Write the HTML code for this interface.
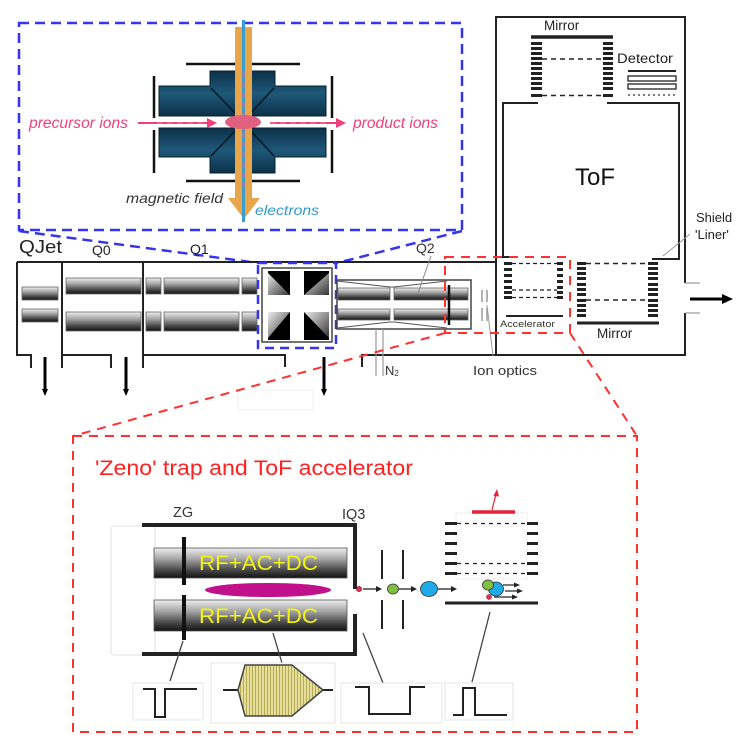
<!DOCTYPE html>
<html><head><meta charset="utf-8"><style>
html,body{margin:0;padding:0;background:#fff;}
svg{display:block;}
text{font-family:"Liberation Sans",Arial,sans-serif;}
</style></head><body>
<svg width="750" height="751" viewBox="0 0 750 751" xmlns="http://www.w3.org/2000/svg">
<defs>
<linearGradient id="rod" x1="0" y1="0" x2="0" y2="1">
<stop offset="0" stop-color="#eeeeee"/><stop offset="0.35" stop-color="#a8a8a8"/><stop offset="0.75" stop-color="#444"/><stop offset="1" stop-color="#111"/>
</linearGradient>
<linearGradient id="teal" x1="0" y1="0" x2="0" y2="1">
<stop offset="0" stop-color="#0c3149"/><stop offset="0.5" stop-color="#1f5878"/><stop offset="1" stop-color="#0c3149"/>
</linearGradient>
<linearGradient id="tri" x1="0" y1="0" x2="1" y2="1">
<stop offset="0" stop-color="#eee"/><stop offset="1" stop-color="#333"/>
</linearGradient>
<pattern id="stripes" width="3" height="10" patternUnits="userSpaceOnUse">
<rect width="3" height="10" fill="#e6df9c"/><rect width="1" height="10" fill="#b5ab55"/>
</pattern>
</defs>

<!-- ===== Top blue inset ===== -->
<rect x="19" y="23" width="443" height="207" fill="none" stroke="#3535f0" stroke-width="2.5" stroke-dasharray="10,6"/>
<line x1="19" y1="231" x2="258" y2="263" stroke="#3535f0" stroke-width="2.5" stroke-dasharray="10,6"/>
<line x1="462" y1="231" x2="337" y2="263" stroke="#3535f0" stroke-width="2.5" stroke-dasharray="10,6"/>

<!-- electrode lines -->
<g stroke="#111" stroke-width="2.5">
<line x1="186" y1="64" x2="300" y2="64"/>
<line x1="186" y1="181" x2="300" y2="181"/>
<line x1="154" y1="76" x2="154" y2="118"/>
<line x1="154" y1="130" x2="154" y2="173"/>
<line x1="332" y1="76" x2="332" y2="118"/>
<line x1="332" y1="130" x2="332" y2="173"/>
</g>
<!-- teal blocks -->
<g fill="url(#teal)" stroke="#07202f" stroke-width="1">
<polygon points="159,86 210,86 210,71 241,71 241,116 159,116"/>
<polygon points="326,86 275,86 275,71 246,71 246,116 326,116"/>
<polygon points="159,128 241,128 241,173 210,173 210,157 159,157"/>
<polygon points="326,128 246,128 246,173 275,173 275,157 326,157"/>
</g>
<g stroke="#061822" stroke-width="1.5">
<line x1="211" y1="88" x2="236" y2="114"/>
<line x1="274" y1="88" x2="250" y2="114"/>
<line x1="211" y1="156" x2="236" y2="130"/>
<line x1="274" y1="156" x2="250" y2="130"/>
</g>
<!-- orange arrow (magnetic field) -->
<rect x="235" y="27" width="17" height="172" fill="#e8a54a"/>
<polygon points="228,198 260,198 244,219" fill="#e8a54a"/>
<!-- blue electrons line -->
<line x1="243.5" y1="20" x2="243.5" y2="222" stroke="#3a9ed0" stroke-width="3"/>
<line x1="243.5" y1="72" x2="243.5" y2="192" stroke="#e0608a" stroke-width="1.8" stroke-dasharray="6,4"/>
<!-- ion cloud -->
<ellipse cx="243" cy="122" rx="18" ry="7" fill="#e0607f"/>
<!-- ion arrows -->
<g stroke="#f0407a" stroke-width="2" fill="none">
<line x1="138" y1="123" x2="212" y2="123"/>
<line x1="270" y1="123" x2="340" y2="123"/>
</g>
<g stroke="#f06090" stroke-width="2" stroke-dasharray="6,4">
<line x1="157" y1="123" x2="212" y2="123"/>
<line x1="270" y1="123" x2="328" y2="123"/>
</g>
<polygon points="217,123 207,118 207,128" fill="#f0407a"/>
<polygon points="346,123 336,118 336,128" fill="#f0407a"/>
<text x="29" y="128" font-size="15.5" font-style="italic" fill="#f0407a" textLength="99" lengthAdjust="spacingAndGlyphs">precursor ions</text>
<text x="353" y="128" font-size="15.5" font-style="italic" fill="#f0407a" textLength="85" lengthAdjust="spacingAndGlyphs">product ions</text>
<text x="126" y="203" font-size="14" font-style="italic" fill="#333" textLength="97" lengthAdjust="spacingAndGlyphs">magnetic field</text>
<text x="255" y="215" font-size="14" font-style="italic" fill="#3399cc" textLength="64" lengthAdjust="spacingAndGlyphs">electrons</text>

<!-- ===== Main instrument row ===== -->
<text x="19" y="253" font-size="18" fill="#222" textLength="43" lengthAdjust="spacingAndGlyphs">QJet</text>
<text x="92" y="255" font-size="14" fill="#222">Q0</text>
<text x="190" y="254" font-size="14" fill="#222">Q1</text>
<text x="416" y="253" font-size="14" fill="#333">Q2</text>

<g stroke="#222" stroke-width="2" fill="none">
<line x1="17" y1="262" x2="496" y2="262"/>
<polyline points="17,262 17,355 31,355 31,368"/>
<line x1="62" y1="262" x2="62" y2="368"/>
<polyline points="62,355 111,355 111,368"/>
<line x1="143" y1="262" x2="143" y2="368"/>
<polyline points="143,355 285,355 285,367"/>
<polyline points="362,367 362,355 496,355"/>
</g>
<!-- pump arrows -->
<g stroke="#000" stroke-width="3">
<line x1="45" y1="357" x2="45" y2="390"/>
<line x1="126" y1="357" x2="126" y2="390"/>
<line x1="324" y1="357" x2="324" y2="390"/>
</g>
<g fill="#000">
<polygon points="42,389 48,389 45,396"/>
<polygon points="123,389 129,389 126,396"/>
<polygon points="321,389 327,389 324,396"/>
</g>
<rect x="238" y="390" width="75" height="20" fill="none" stroke="#f0f0f0"/>

<!-- rods -->
<g fill="url(#rod)" stroke="#666" stroke-width="0.8">
<rect x="22" y="287" width="36" height="13"/>
<rect x="22" y="309" width="36" height="13"/>
<rect x="66" y="278" width="75" height="16"/>
<rect x="66" y="312" width="75" height="19"/>
<rect x="146" y="278" width="15" height="16"/>
<rect x="164" y="278" width="75" height="16"/>
<rect x="242" y="278" width="15" height="16"/>
<rect x="146" y="312" width="15" height="19"/>
<rect x="164" y="312" width="75" height="19"/>
<rect x="242" y="312" width="15" height="19"/>
</g>

<!-- collision cell -->
<rect x="262" y="268" width="70" height="74" fill="#fff" stroke="#444" stroke-width="1.5"/>
<rect x="268" y="271" width="22" height="24" fill="#000"/>
<rect x="304" y="271" width="25" height="24" fill="#000"/>
<rect x="268" y="312" width="22" height="28" fill="#000"/>
<rect x="304" y="312" width="25" height="28" fill="#000"/>
<polygon points="268,273 268,295 290,295" fill="url(#tri)"/>
<polygon points="329,273 329,295 304,295" fill="url(#tri)"/>
<polygon points="268,312 290,312 268,338" fill="url(#tri)"/>
<polygon points="304,312 329,312 329,338" fill="url(#tri)"/>
<rect x="258" y="263" width="78" height="85" fill="none" stroke="#3535f0" stroke-width="2.5" stroke-dasharray="9,6"/>

<!-- Q2 -->
<rect x="337" y="280" width="134" height="49" fill="#fff" stroke="#444" stroke-width="1.5"/>
<g fill="url(#rod)" stroke="#666" stroke-width="0.8">
<rect x="338" y="288" width="52" height="12"/>
<rect x="394" y="288" width="74" height="12"/>
<rect x="338" y="309" width="52" height="11"/>
<rect x="394" y="309" width="74" height="11"/>
</g>
<g stroke="#555" stroke-width="1" fill="none">
<polyline points="337,281 390,287 394,287 447,281"/>
<polyline points="337,328 390,322 394,322 447,328"/>
</g>
<line x1="449" y1="285" x2="449" y2="325" stroke="#111" stroke-width="2.5"/>
<line x1="431" y1="256" x2="418" y2="293" stroke="#888" stroke-width="1"/>
<!-- N2 inlet -->
<g stroke="#999" stroke-width="1.2">
<line x1="376" y1="329" x2="376" y2="376"/>
<line x1="383" y1="329" x2="383" y2="376"/>
</g>
<text x="385" y="375" font-size="13" fill="#333">N<tspan font-size="8" dy="1">2</tspan></text>
<!-- ion optics -->
<g stroke="#999" stroke-width="1.5">
<line x1="482" y1="290" x2="482" y2="302"/>
<line x1="487" y1="290" x2="487" y2="302"/>
<line x1="482" y1="308" x2="482" y2="321"/>
<line x1="487" y1="308" x2="487" y2="321"/>
</g>
<line x1="493" y1="356" x2="487" y2="305" stroke="#999" stroke-width="1"/>
<text x="473" y="375" font-size="13" fill="#333" textLength="64" lengthAdjust="spacingAndGlyphs">Ion optics</text>

<!-- ===== ToF ===== -->
<g stroke="#222" stroke-width="2" fill="none">
<polyline points="685,283 685,17 496,17 496,355 685,355 685,313"/>
<line x1="685" y1="283" x2="700" y2="283" stroke="#999" stroke-width="1.2"/>
<line x1="685" y1="313" x2="700" y2="313" stroke="#999" stroke-width="1.2"/>
<polyline points="538,103 503,103 503,257 512,257"/>
<polyline points="607,103 679,103 679,259 652,259"/>
</g>
<line x1="690" y1="299" x2="724" y2="299" stroke="#000" stroke-width="3"/>
<polygon points="733,299 722,294 722,304" fill="#000"/>
<text x="544" y="30" font-size="13.5" fill="#222">Mirror</text>
<line x1="531" y1="37" x2="613" y2="37" stroke="#222" stroke-width="3.5"/>
<g fill="#222">
<rect x="531" y="42" width="11" height="3"/><rect x="531" y="47" width="11" height="3"/><rect x="531" y="52" width="11" height="3"/><rect x="531" y="57" width="11" height="3"/><rect x="531" y="62" width="11" height="3"/><rect x="531" y="67" width="11" height="3"/><rect x="531" y="72" width="11" height="3"/><rect x="531" y="77" width="11" height="3"/><rect x="531" y="82" width="11" height="3"/><rect x="531" y="87" width="11" height="3"/><rect x="531" y="94" width="11" height="3"/>
<rect x="603" y="42" width="10" height="3"/><rect x="603" y="47" width="10" height="3"/><rect x="603" y="52" width="10" height="3"/><rect x="603" y="57" width="10" height="3"/><rect x="603" y="62" width="10" height="3"/><rect x="603" y="67" width="10" height="3"/><rect x="603" y="72" width="10" height="3"/><rect x="603" y="77" width="10" height="3"/><rect x="603" y="82" width="10" height="3"/><rect x="603" y="87" width="10" height="3"/><rect x="603" y="94" width="10" height="3"/>
</g>
<g stroke="#222" stroke-width="1.5" stroke-dasharray="5,4">
<line x1="542" y1="59" x2="603" y2="59"/>
<line x1="542" y1="95.5" x2="603" y2="95.5"/>
</g>
<text x="617" y="63" font-size="13.5" fill="#222" textLength="56" lengthAdjust="spacingAndGlyphs">Detector</text>
<line x1="628" y1="71" x2="676" y2="71" stroke="#222" stroke-width="2"/>
<rect x="628" y="76" width="48" height="5" fill="none" stroke="#222" stroke-width="1.3"/>
<rect x="628" y="84" width="48" height="5" fill="none" stroke="#222" stroke-width="1.3"/>
<line x1="628" y1="95" x2="676" y2="95" stroke="#333" stroke-width="1.2" stroke-dasharray="2,3"/>
<text x="575" y="185" font-size="24" fill="#111">ToF</text>

<!-- accelerator (ToF) -->
<g fill="#222">
<rect x="504" y="262" width="8" height="3"/><rect x="504" y="268" width="8" height="3"/><rect x="504" y="274" width="8" height="3"/><rect x="504" y="280" width="8" height="3"/><rect x="504" y="286" width="8" height="3"/><rect x="504" y="291" width="8" height="3"/><rect x="504" y="296" width="8" height="3"/>
<rect x="557" y="262" width="6" height="3"/><rect x="557" y="268" width="6" height="3"/><rect x="557" y="274" width="6" height="3"/><rect x="557" y="280" width="6" height="3"/><rect x="557" y="286" width="6" height="3"/><rect x="557" y="291" width="6" height="3"/><rect x="557" y="296" width="6" height="3"/>
</g>
<g stroke="#222" stroke-width="1.3" stroke-dasharray="4,3">
<line x1="512" y1="263.5" x2="557" y2="263.5"/>
<line x1="512" y1="290" x2="557" y2="290"/>
<line x1="512" y1="297.5" x2="557" y2="297.5"/>
</g>
<line x1="506" y1="316" x2="563" y2="316" stroke="#222" stroke-width="2"/>
<text x="500" y="327" font-size="9.5" fill="#333" textLength="55" lengthAdjust="spacingAndGlyphs">Accelerator</text>
<!-- bottom mirror -->
<g fill="#222">
<rect x="577" y="262" width="9" height="3"/><rect x="577" y="267" width="9" height="3"/><rect x="577" y="272" width="9" height="3"/><rect x="577" y="277" width="9" height="3"/><rect x="577" y="283" width="9" height="3"/><rect x="577" y="288" width="9" height="3"/><rect x="577" y="293" width="9" height="3"/><rect x="577" y="299" width="9" height="3"/><rect x="577" y="304" width="9" height="3"/><rect x="577" y="309" width="9" height="3"/><rect x="577" y="314" width="9" height="3"/>
<rect x="648" y="262" width="10" height="3"/><rect x="648" y="267" width="10" height="3"/><rect x="648" y="272" width="10" height="3"/><rect x="648" y="277" width="10" height="3"/><rect x="648" y="283" width="10" height="3"/><rect x="648" y="288" width="10" height="3"/><rect x="648" y="293" width="10" height="3"/><rect x="648" y="299" width="10" height="3"/><rect x="648" y="304" width="10" height="3"/><rect x="648" y="309" width="10" height="3"/><rect x="648" y="314" width="10" height="3"/>
</g>
<g stroke="#222" stroke-width="1.5" stroke-dasharray="5,4">
<line x1="586" y1="263.5" x2="648" y2="263.5"/>
<line x1="586" y1="300" x2="648" y2="300"/>
</g>
<line x1="577" y1="323" x2="659" y2="323" stroke="#222" stroke-width="3"/>
<text x="597" y="338" font-size="13.5" fill="#222">Mirror</text>
<text x="696" y="222" font-size="13" fill="#222">Shield</text>
<text x="695" y="239" font-size="13" fill="#222">'Liner'</text>
<line x1="690" y1="234" x2="663" y2="256" stroke="#999" stroke-width="1"/>

<!-- red dashed callout -->
<g stroke="#ff3030" stroke-width="2" stroke-dasharray="9,7" fill="none">
<rect x="445" y="257" width="125" height="76"/>
<line x1="445" y1="333" x2="73" y2="436"/>
<line x1="570" y1="333" x2="637" y2="436"/>
<rect x="73" y="436" width="564" height="296"/>
</g>

<!-- ===== Bottom inset ===== -->
<text x="95" y="475" font-size="21" fill="#ff2020" textLength="318" lengthAdjust="spacingAndGlyphs">'Zeno' trap and ToF accelerator</text>
<text x="173" y="517" font-size="14.5" fill="#333">ZG</text>
<text x="342" y="519" font-size="14.5" fill="#333">IQ3</text>
<rect x="111" y="526" width="44" height="129" rx="3" fill="none" stroke="#e2e2e2" stroke-width="1"/>
<!-- rods -->
<rect x="154" y="548" width="193" height="30" fill="url(#rod)" stroke="#555" stroke-width="0.8"/>
<rect x="154" y="600" width="193" height="31" fill="url(#rod)" stroke="#555" stroke-width="0.8"/>
<text x="199" y="570" font-size="21" fill="#f2f21a" textLength="119" lengthAdjust="spacingAndGlyphs">RF+AC+DC</text>
<text x="199" y="623" font-size="21" fill="#f2f21a" textLength="119" lengthAdjust="spacingAndGlyphs">RF+AC+DC</text>
<!-- frame -->
<g stroke="#222" stroke-width="4" fill="none">
<polyline points="142,525 355,525 355,589"/>
<polyline points="355,614 355,654 142,654"/>
</g>
<g stroke="#111" stroke-width="4">
<line x1="184" y1="537" x2="184" y2="585"/>
<line x1="184" y1="595" x2="184" y2="640"/>
</g>
<ellipse cx="268" cy="590" rx="63" ry="7" fill="#c0108a"/>
<!-- ion path -->
<circle cx="359" cy="589" r="2.6" fill="#e03060" stroke="#800" stroke-width="0.6"/>
<g stroke="#222" stroke-width="1.3">
<line x1="363" y1="589" x2="378" y2="589"/>
<line x1="399" y1="589" x2="413" y2="589"/>
<line x1="438" y1="589" x2="453" y2="589"/>
</g>
<g fill="#222">
<polygon points="382,589 376,586 376,592"/>
<polygon points="417,589 411,586 411,592"/>
<polygon points="457,589 451,586 451,592"/>
</g>
<g stroke="#222" stroke-width="2">
<line x1="382" y1="550" x2="382" y2="579"/>
<line x1="403" y1="550" x2="403" y2="579"/>
<line x1="382" y1="600" x2="382" y2="629"/>
<line x1="403" y1="600" x2="403" y2="629"/>
</g>
<ellipse cx="393" cy="589" rx="5.5" ry="5" fill="#80c040" stroke="#333" stroke-width="0.8"/>
<ellipse cx="429" cy="589" rx="8.5" ry="7.5" fill="#1eaae6" stroke="#333" stroke-width="0.8"/>
<!-- accelerator -->
<rect x="456" y="513" width="71" height="66" fill="none" stroke="#eee" stroke-width="1"/>
<g fill="#222">
<rect x="445" y="522" width="12" height="3"/><rect x="445" y="532" width="12" height="3"/><rect x="445" y="542" width="12" height="3"/><rect x="445" y="552" width="12" height="3"/><rect x="445" y="562" width="12" height="3"/><rect x="445" y="572" width="12" height="3"/>
<rect x="527" y="522" width="11" height="3"/><rect x="527" y="532" width="11" height="3"/><rect x="527" y="542" width="11" height="3"/><rect x="527" y="552" width="11" height="3"/><rect x="527" y="562" width="11" height="3"/><rect x="527" y="572" width="11" height="3"/>
</g>
<g stroke="#222" stroke-width="1.3" stroke-dasharray="4,4">
<line x1="457" y1="523.5" x2="527" y2="523.5"/>
<line x1="457" y1="563.5" x2="527" y2="563.5"/>
<line x1="457" y1="573.5" x2="527" y2="573.5"/>
</g>
<line x1="472" y1="512" x2="515" y2="512" stroke="#e8203a" stroke-width="3.5"/>
<line x1="492" y1="510" x2="496" y2="494" stroke="#e8203a" stroke-width="1.2"/>
<polygon points="497,489 493.5,496 499,496.5" fill="#e8203a"/>
<line x1="445" y1="603" x2="538" y2="603" stroke="#222" stroke-width="3"/>
<ellipse cx="496" cy="589" rx="7.5" ry="7" fill="#1eaae6" stroke="#333" stroke-width="0.8"/>
<ellipse cx="488" cy="585" rx="5.5" ry="5" fill="#80c040" stroke="#333" stroke-width="0.8"/>
<circle cx="489" cy="597" r="2.5" fill="#e03060" stroke="#800" stroke-width="0.5"/>
<g stroke="#222" stroke-width="1.2">
<line x1="503" y1="585" x2="516" y2="585"/>
<line x1="505" y1="591" x2="519" y2="591"/>
<line x1="494" y1="597" x2="514" y2="597"/>
</g>
<g fill="#222">
<polygon points="520,585 514,582.5 514,587.5"/>
<polygon points="523,591 517,588.5 517,593.5"/>
<polygon points="518,597 512,594.5 512,599.5"/>
</g>
<!-- leader lines -->
<g stroke="#444" stroke-width="1.3">
<line x1="183" y1="641" x2="170" y2="681"/>
<line x1="273" y1="633" x2="282" y2="663"/>
<line x1="363" y1="633" x2="383" y2="683"/>
<line x1="490" y1="612" x2="472" y2="682"/>
</g>
<!-- waveform boxes -->
<g fill="none" stroke="#e6e6e6" stroke-width="1">
<rect x="133" y="683" width="70" height="37"/>
<rect x="211" y="663" width="124" height="60"/>
<rect x="341" y="683" width="101" height="40"/>
<rect x="445" y="683" width="68" height="37"/>
</g>
<g fill="none" stroke="#222" stroke-width="2">
<polyline points="143,689 155,689 155,717 165,717 165,689 197,689"/>
<polyline points="355,687 369,687 369,714 410,714 410,687 425,687"/>
<polyline points="453,715 463,715 463,688 475,688 475,715 507,715"/>
<line x1="223" y1="690" x2="238" y2="690"/>
<line x1="323" y1="690" x2="333" y2="690"/>
</g>
<polygon points="238,690 245,665 292,665 323,690 292,716 245,716" fill="url(#stripes)" stroke="#444" stroke-width="1.5"/>
</svg>
</body></html>
